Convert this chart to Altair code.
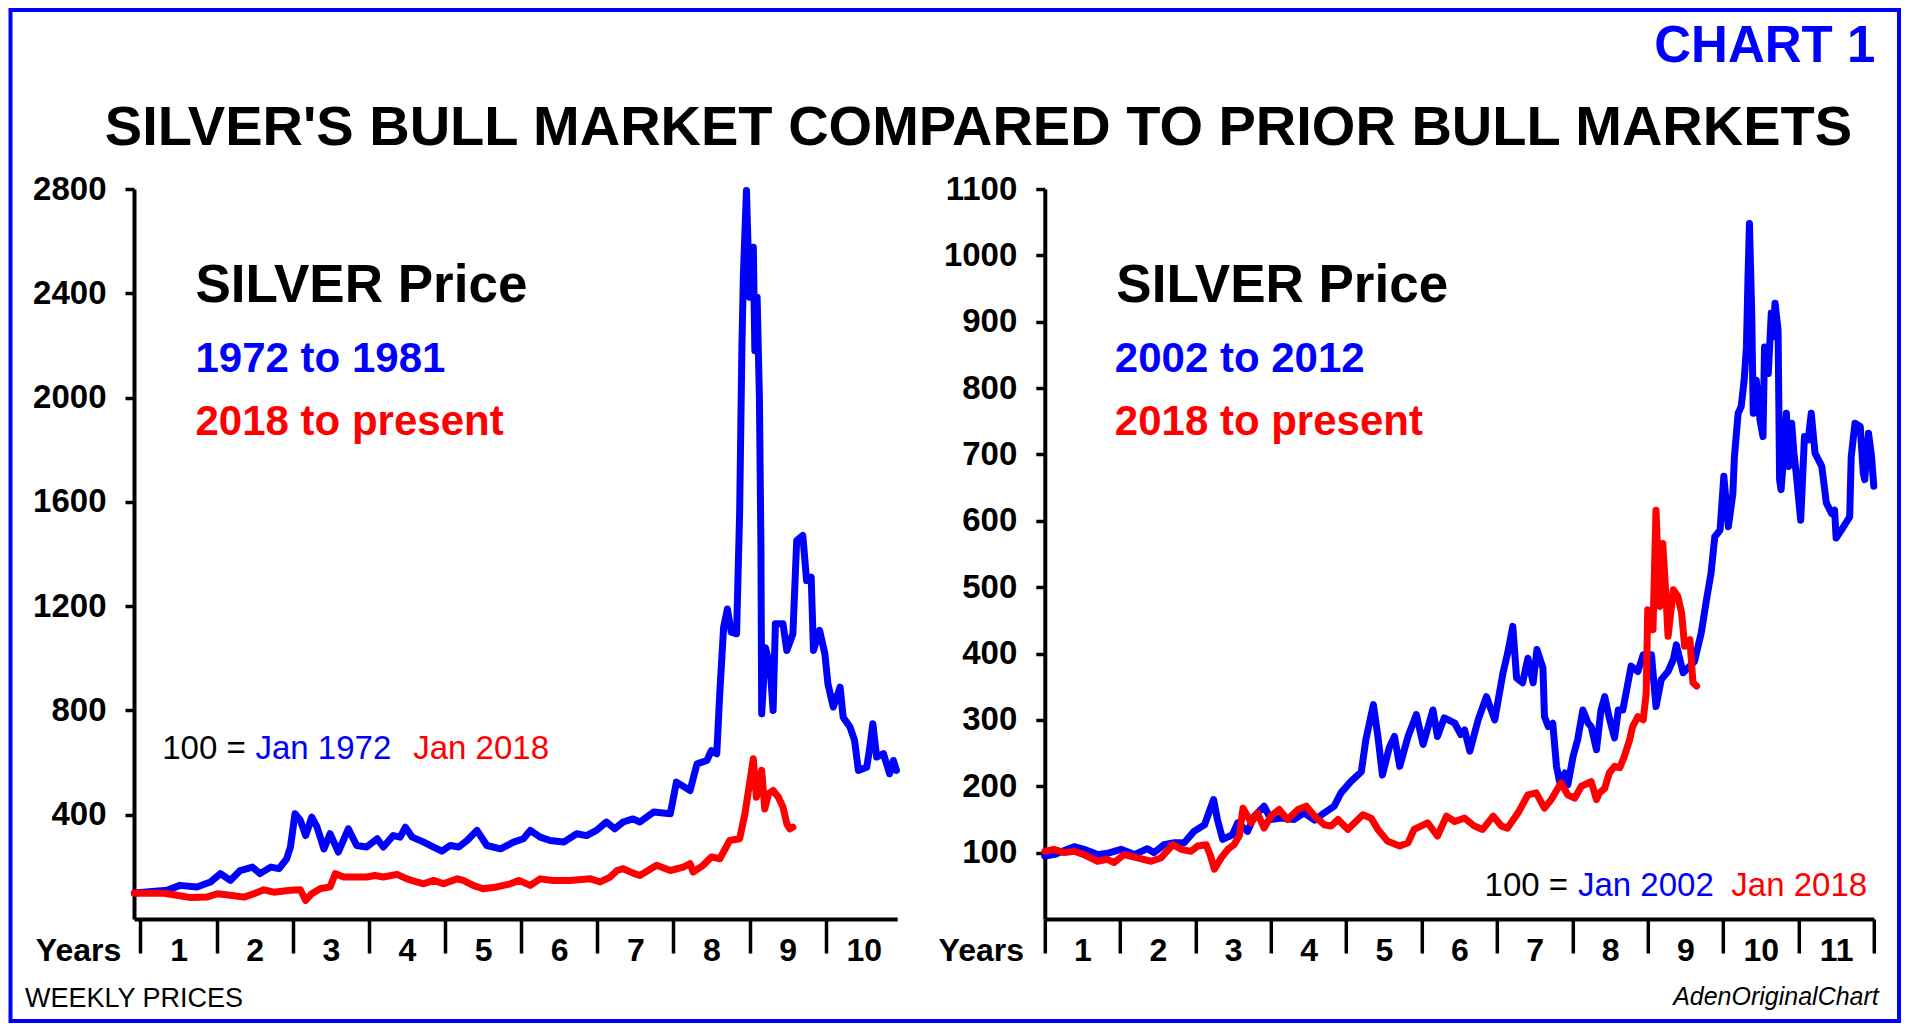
import altair as alt
import pandas as pd

BLUE = "#0000FF"
RED = "#FF0000"
FONT = "Liberation Sans"

# ---------------- data (index, 100 = January of the first year) ----------------
# Left panel: 1972-1981 bull market (blue) vs 2018-present (red)
L_BLUE_YEARS = [-0.08, 0.35, 0.52, 0.74, 0.92, 1.05, 1.18, 1.31, 1.47, 1.57, 1.71, 1.82, 1.92, 1.97,
                2.03, 2.10, 2.17, 2.25, 2.32, 2.41, 2.49, 2.60, 2.73, 2.84, 2.97, 3.11, 3.19, 3.32,
                3.41, 3.48, 3.57, 3.72, 3.85, 3.96, 4.07, 4.18, 4.29, 4.42, 4.55, 4.73, 4.90, 5.03,
                5.12, 5.25, 5.38, 5.56, 5.73, 5.86, 5.99, 6.12, 6.23, 6.34, 6.47, 6.56, 6.74, 6.96,
                7.04, 7.22, 7.31, 7.44, 7.50, 7.57, 7.61, 7.66, 7.71, 7.76, 7.83, 7.87, 7.90, 7.92,
                7.96, 8.00, 8.05, 8.07, 8.10, 8.13, 8.15, 8.16, 8.21, 8.27, 8.31, 8.34, 8.44, 8.49,
                8.57, 8.62, 8.70, 8.75, 8.81, 8.84, 8.92, 8.99, 9.03, 9.10, 9.19, 9.23, 9.32, 9.38,
                9.43, 9.54, 9.58, 9.62, 9.67, 9.76, 9.84, 9.89, 9.93]
L_BLUE_VALUES = [100, 110, 129, 123, 142, 174, 148, 186, 199, 174, 199, 193, 231, 276,
                 404, 378, 320, 391, 352, 269, 327, 257, 346, 282, 276, 308, 276, 320,
                 314, 352, 314, 295, 276, 260, 282, 276, 301, 340, 282, 269, 295, 308,
                 340, 314, 301, 295, 327, 320, 340, 372, 346, 372, 384, 372, 410, 404,
                 525, 493, 595, 608, 646, 634, 869, 1119, 1189, 1100, 1094, 1554, 2193, 2474,
                 2794, 2385, 2577, 2180, 2385, 2001, 1426, 787, 1040, 968, 800, 1132, 1132, 1030,
                 1094, 1452, 1471, 1298, 1311, 1030, 1107, 1017, 902, 813, 889, 774, 736, 685,
                 570, 582, 659, 749, 621, 634, 557, 608, 570]

L_RED_YEARS = [-0.08, 0.31, 0.48, 0.66, 0.87, 1.01, 1.18, 1.36, 1.49, 1.62, 1.75, 1.97, 2.10, 2.17,
               2.25, 2.36, 2.49, 2.56, 2.67, 2.84, 2.97, 3.08, 3.19, 3.37, 3.50, 3.63, 3.72, 3.85,
               3.98, 4.16, 4.24, 4.37, 4.50, 4.68, 4.86, 4.97, 5.12, 5.25, 5.42, 5.64, 5.91, 6.04,
               6.17, 6.26, 6.34, 6.47, 6.56, 6.78, 6.96, 7.13, 7.22, 7.26, 7.39, 7.50, 7.61, 7.74,
               7.87, 7.94, 7.98, 8.05, 8.09, 8.16, 8.20, 8.25, 8.31, 8.38, 8.44, 8.49, 8.53, 8.57]
L_RED_VALUES = [99, 99, 91, 82, 84, 97, 91, 84, 97, 112, 103, 110, 112, 71,
                97, 116, 123, 174, 161, 161, 161, 167, 161, 171, 154, 142, 135, 148,
                135, 154, 148, 129, 116, 123, 135, 148, 129, 154, 148, 148, 154, 142,
                161, 186, 193, 176, 167, 206, 186, 199, 212, 180, 206, 238, 231, 301,
                308, 404, 480, 615, 467, 570, 422, 480, 493, 467, 429, 365, 346, 352]

# Right panel: 2002-2012 bull market (blue) vs 2018-present (red)
R_BLUE_YEARS = [0.00, 0.12, 0.39, 0.52, 0.70, 0.83, 1.01, 1.19, 1.36, 1.45, 1.58, 1.72, 1.85, 1.98,
                2.12, 2.24, 2.29, 2.36, 2.49, 2.56, 2.69, 2.78, 2.91, 3.00, 3.13, 3.31, 3.44, 3.58,
                3.71, 3.84, 3.93, 4.06, 4.20, 4.26, 4.36, 4.42, 4.48, 4.57, 4.64, 4.71, 4.82, 4.93,
                5.02, 5.15, 5.21, 5.30, 5.44, 5.52, 5.57, 5.64, 5.75, 5.86, 5.97, 6.08, 6.14, 6.21,
                6.26, 6.34, 6.41, 6.48, 6.53, 6.61, 6.63, 6.68, 6.74, 6.79, 6.83, 6.90, 6.94, 7.01,
                7.07, 7.14, 7.21, 7.25, 7.32, 7.38, 7.43, 7.49, 7.56, 7.61, 7.67, 7.72, 7.78, 7.87,
                7.94, 8.05, 8.11, 8.18, 8.27, 8.34, 8.38, 8.47, 8.62, 8.71, 8.78, 8.84, 8.89, 8.96,
                9.01, 9.07, 9.13, 9.15, 9.20, 9.24, 9.28, 9.31, 9.33, 9.35, 9.38, 9.40, 9.44, 9.49,
                9.53, 9.55, 9.60, 9.64, 9.66, 9.69, 9.73, 9.75, 9.77, 9.82, 9.84, 9.87, 9.91, 9.94,
                9.97, 10.03, 10.08, 10.13, 10.17, 10.22, 10.31, 10.37, 10.44, 10.48, 10.50, 10.57,
                10.68, 10.70, 10.75, 10.82, 10.86, 10.88, 10.93, 10.97, 11.00]
R_BLUE_VALUES = [95, 97, 109, 105, 97, 99, 105, 97, 106, 100, 112, 115, 115, 132,
                 142, 180, 150, 120, 127, 145, 132, 155, 170, 150, 152, 150, 160, 149,
                 160, 170, 190, 207, 222, 270, 323, 275, 217, 258, 275, 230, 275, 308,
                 263, 315, 275, 303, 295, 278, 285, 253, 300, 335, 300, 371, 400, 441,
                 363, 356, 393, 356, 406, 378, 305, 290, 295, 230, 207, 220, 202, 245,
                 270, 315, 295, 290, 255, 315, 335, 303, 273, 315, 315, 345, 381, 373,
                 398, 398, 320, 361, 373, 391, 413, 371, 388, 431, 481, 521, 576, 586,
                 667, 591, 641, 696, 762, 772, 812, 862, 963, 1048, 913, 762, 812, 752,
                 727, 862, 822, 913, 877, 928, 887, 662, 647, 722, 762, 682, 747, 702,
                 672, 601, 727, 722, 762, 702, 682, 627, 611, 616, 574, 586,
                 606, 696, 747, 742, 672, 662, 732, 697, 652]

R_RED_YEARS = [0.00, 0.12, 0.26, 0.39, 0.52, 0.70, 0.83, 0.92, 1.05, 1.23, 1.41, 1.54, 1.70, 1.81,
               1.94, 2.03, 2.14, 2.20, 2.25, 2.34, 2.43, 2.51, 2.58, 2.63, 2.74, 2.82, 2.91, 3.00,
               3.11, 3.22, 3.36, 3.47, 3.58, 3.71, 3.80, 3.89, 4.02, 4.11, 4.22, 4.33, 4.42, 4.55,
               4.71, 4.82, 4.90, 5.08, 5.21, 5.33, 5.44, 5.57, 5.70, 5.81, 5.95, 6.06, 6.14, 6.28,
               6.41, 6.52, 6.63, 6.72, 6.85, 6.94, 7.03, 7.12, 7.25, 7.32, 7.36, 7.43, 7.49, 7.56,
               7.63, 7.69, 7.76, 7.80, 7.87, 7.94, 7.98, 8.00, 8.07, 8.11, 8.16, 8.20, 8.25, 8.27,
               8.34, 8.40, 8.45, 8.49, 8.56, 8.60, 8.65]
R_RED_VALUES = [102, 105, 100, 102, 97, 87, 90, 85, 97, 92, 87, 92, 112, 105,
                102, 110, 112, 95, 75, 92, 105, 112, 125, 167, 145, 160, 137, 155,
                165, 150, 165, 170, 155, 142, 140, 150, 135, 145, 157, 152, 135, 117,
                110, 115, 135, 145, 125, 155, 147, 152, 140, 135, 155, 140, 137, 160,
                187, 190, 167, 180, 205, 187, 182, 200, 207, 180, 190, 197, 220, 230,
                228, 245, 270, 290, 305, 300, 340, 466, 436, 616, 471, 566, 471, 426,
                496, 486, 461, 411, 421, 356, 351]

LEFT_X_TICKS = list(range(10))
RIGHT_X_TICKS = list(range(12))
LEFT_Y_TICKS = [400, 800, 1200, 1600, 2000, 2400, 2800]
RIGHT_Y_TICKS = [100, 200, 300, 400, 500, 600, 700, 800, 900, 1000, 1100]

TITLE = "SILVER'S BULL MARKET COMPARED TO PRIOR BULL MARKETS"


# ---------------- helpers ----------------
def series(years, values):
    return pd.DataFrame({"t": years, "v": values})


def x_axis(ticks, n_labels, offset, title_x):
    return alt.Axis(
        values=ticks, title="Years", titleX=title_x, titleY=41, titleAlign="center",
        titleBaseline="alphabetic", titleFont=FONT, titleFontSize=32, titleFontWeight="bold",
        titleColor="black", titleAngle=0,
        labelExpr=f"datum.value < {n_labels} ? '' + (datum.value + 1) : ''",
        labelOffset=offset, labelFlush=False, labelOverlap=False, labelBound=False,
        labelBaseline="alphabetic", labelAlign="center", labelPadding=7, labelFont=FONT,
        labelFontSize=32, labelFontWeight="bold", labelColor="black",
        tickSize=34, tickWidth=3.5, tickColor="black",
        domainWidth=4, domainColor="black", grid=False,
    )


def y_axis(ticks):
    return alt.Axis(
        values=ticks, title=None, format="d", labelFont=FONT, labelFontSize=33,
        labelFontWeight="bold", labelColor="black", labelPadding=19, labelOverlap=False,
        labelBound=False, tickSize=9, tickWidth=3.5, tickColor="black",
        domainWidth=4, domainColor="black", grid=False,
    )


def line(df, color, xdom, ydom, xax, yax):
    return alt.Chart(df).mark_line(
        color=color, strokeWidth=7, strokeJoin="round", strokeCap="round"
    ).encode(
        x=alt.X("t:Q", scale=alt.Scale(domain=xdom, nice=False, zero=False), axis=xax),
        y=alt.Y("v:Q", scale=alt.Scale(domain=ydom, nice=False, zero=False), axis=yax),
    )


def note(text, x, y, size, color="black", weight="normal", align="left", style="normal"):
    return alt.Chart(pd.DataFrame({"label": [text]})).mark_text(
        align=align, baseline="alphabetic", font=FONT, fontSize=size,
        fontWeight=weight, fontStyle=style, color=color,
    ).encode(x=alt.value(x), y=alt.value(y), text="label:N")


PLOT_H = 730
LEFT_W = 763.2
RIGHT_W = 829
GAP = 146.8

# ---------------- left panel ----------------
lx = [-0.085, 9.94]
ly = [0, 2800]
left_blue = line(series(L_BLUE_YEARS, L_BLUE_VALUES), BLUE, lx, ly,
                 x_axis(LEFT_X_TICKS, 10, 38.07, -56), y_axis(LEFT_Y_TICKS))
left_red = line(series(L_RED_YEARS, L_RED_VALUES), RED, lx, ly,
                x_axis(LEFT_X_TICKS, 10, 38.07, -56), y_axis(LEFT_Y_TICKS))

border = alt.Chart(pd.DataFrame({"k": [0]})).mark_rect(
    fillOpacity=0, stroke=BLUE, strokeWidth=4
).encode(x=alt.value(-123.5), x2=alt.value(1765), y=alt.value(-179), y2=alt.value(832))

left = alt.layer(
    border,
    left_blue,
    left_red,
    note(TITLE, 844.5, -44, 56, weight="bold", align="center"),
    note("SILVER Price", 61.5, 112.7, 53, weight="bold"),
    note("1972 to 1981", 61.5, 182.7, 42, color=BLUE, weight="bold"),
    note("2018 to present", 61.5, 246, 42, color=RED, weight="bold"),
    note("100 =", 28.2, 570.3, 33),
    note("Jan 1972", 121.5, 570.3, 33, color=BLUE),
    note("Jan 2018", 279.2, 570.3, 33, color=RED),
    note("WEEKLY PRICES", -109, 818, 27),
).properties(width=LEFT_W, height=PLOT_H)

# ---------------- right panel ----------------
rx = [0, 11]
ry = [0, 1100]
right_blue = line(series(R_BLUE_YEARS, R_BLUE_VALUES), BLUE, rx, ry,
                  x_axis(RIGHT_X_TICKS, 11, 37.68, -64), y_axis(RIGHT_Y_TICKS))
right_red = line(series(R_RED_YEARS, R_RED_VALUES), RED, rx, ry,
                 x_axis(RIGHT_X_TICKS, 11, 37.68, -64), y_axis(RIGHT_Y_TICKS))

right = alt.layer(
    right_blue,
    right_red,
    note("CHART 1", 830.5, -127.3, 51, color=BLUE, weight="bold", align="right"),
    note("SILVER Price", 71.5, 112.7, 53, weight="bold"),
    note("2002 to 2012", 70, 182.7, 42, color=BLUE, weight="bold"),
    note("2018 to present", 70, 246, 42, color=RED, weight="bold"),
    note("100 =", 439.8, 707, 33),
    note("Jan 2002", 533.2, 707, 33, color=BLUE),
    note("Jan 2018", 686.5, 707, 33, color=RED),
    note("AdenOriginalChart", 834, 816, 25, style="italic", align="right"),
).properties(width=RIGHT_W, height=PLOT_H)

chart = alt.hconcat(left, right, spacing=GAP, bounds="flush").properties(
    padding=0, background="white"
).configure_view(strokeWidth=0)

chart.save("out.html", embed_options={"renderer": "svg", "actions": False})
